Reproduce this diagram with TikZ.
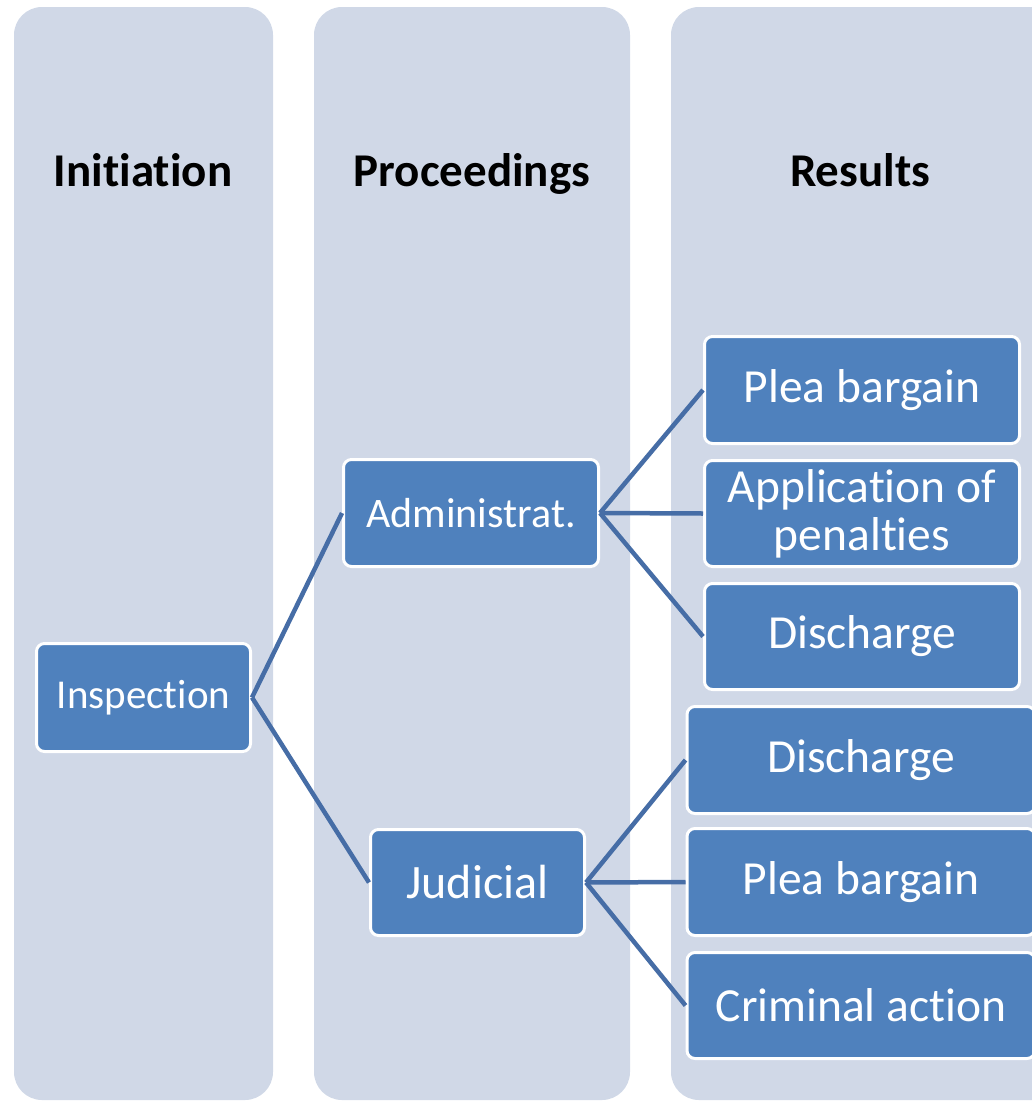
\documentclass[tikz,border=0pt]{standalone}
\usepackage{fontspec}
\setmainfont{Carlito}[Ligatures=NoCommon]
\definecolor{colbg}{HTML}{D0D8E7}
\definecolor{boxblue}{HTML}{4F81BD}
\definecolor{linkblue}{HTML}{466DA6}
\begin{document}
\begin{tikzpicture}[x=1pt,y=-1pt,
  column/.style={fill=colbg, rounded corners=28pt},
  hdr/.style={font=\bfseries\fontsize{47}{56}\selectfont, text=black, inner sep=0pt, anchor=base},
  box/.style={draw=white, line width=3pt, fill=boxblue, rounded corners=8pt, text=white,
    inner sep=0pt, align=center},
  rfont/.style={font=\fontsize{47.5}{50}\selectfont},
  conn/.style={draw=linkblue, line width=4.5pt}
]
\useasboundingbox (0,0) rectangle (1032,1101);
\clip (0,0) rectangle (1032,1101);
% columns
\fill[column] (14,7) rectangle (273,1100);
\fill[column] (314,7) rectangle (630,1100);
\fill[column] (671,7) rectangle (1060,1100);
% headers
\node[hdr] (h1) at (143,186) {Initiation};
\node[hdr] (h2) at (472,186) {Proceedings};
\node[hdr] (h3) at (860,186) {Results};
% boxes
\node[box, minimum width=214pt, minimum height=108pt, font=\fontsize{41}{48}\selectfont] (insp) at (143.5,697.5) {Inspection};
\node[box, minimum width=255pt, minimum height=107pt, font=\fontsize{42}{48}\selectfont] (adm) at (471,513) {Administrat.};
\node[box, minimum width=214pt, minimum height=106pt, font=\fontsize{48}{56}\selectfont] (jud) at (477.5,882.5) {Judicial};
\node[box, rfont, minimum width=315pt, minimum height=107pt] (r1) at (862,390) {Plea bargain};
\node[box, rfont, minimum width=315pt, minimum height=106pt] (r2) at (862,513.5) {Application of\\[-2pt]penalties};
\node[box, rfont, minimum width=315pt, minimum height=106pt] (r3) at (862,636.5) {Discharge};
\node[box, rfont, minimum width=348pt, minimum height=107pt] (r4) at (861,760) {Discharge};
\node[box, rfont, minimum width=348pt, minimum height=107pt] (r5) at (861,882) {Plea bargain};
\node[box, rfont, minimum width=348pt, minimum height=106pt] (r6) at (861,1005.5) {Criminal action};
% connectors
\draw[conn] (insp.east) -- (adm.west);
\draw[conn] (insp.east) -- (jud.west);
\draw[conn] (adm.east) -- (r1.west);
\draw[conn] (adm.east) -- (r2.west);
\draw[conn] (adm.east) -- (r3.west);
\draw[conn] (jud.east) -- (r4.west);
\draw[conn] (jud.east) -- (r5.west);
\draw[conn] (jud.east) -- (r6.west);
\end{tikzpicture}
\end{document}
